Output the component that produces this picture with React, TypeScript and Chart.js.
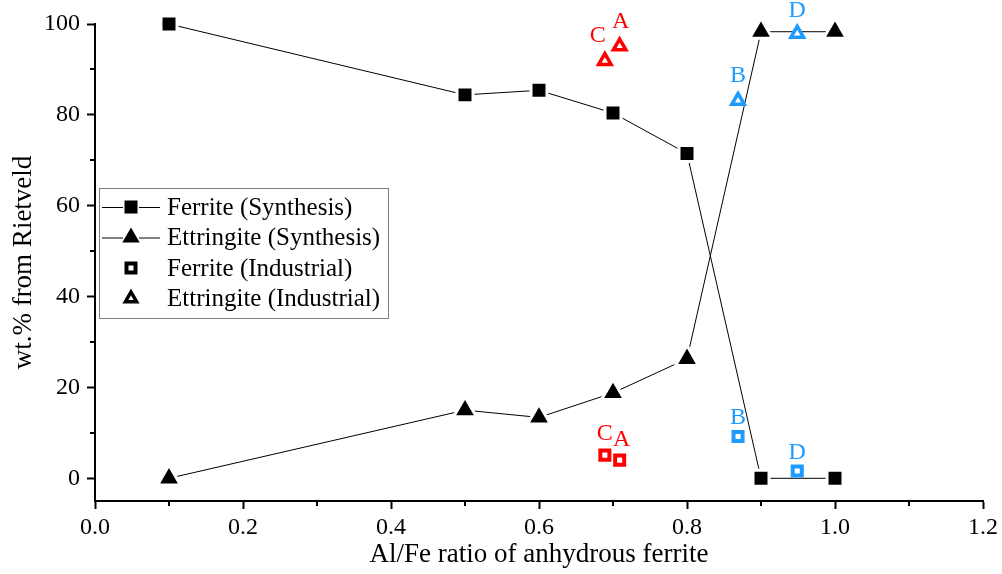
import { useEffect, useRef } from "react";
import Chart from "chart.js/auto";

// data
const synthRatio = [0.1, 0.5, 0.6, 0.7, 0.8, 0.9, 1.0];
const ferriteSynthesis = [100, 84.4, 85.4, 80.4, 71.5, 0, 0];
const ettringiteSynthesis = [0, 15.0, 13.4, 18.8, 26.3, 98.3, 98.3];

const industrialSamples = ["C", "A", "B", "D"];
const industrialRatio = [0.689, 0.709, 0.869, 0.949];
const ferriteIndustrial = [5.1, 4.0, 9.2, 1.6];
const ettringiteIndustrial = [91.9, 95.1, 83.1, 97.9];

const xTicks = [0, 0.2, 0.4, 0.6, 0.8, 1.0, 1.2];
const xMinorTicks = [0.1, 0.3, 0.5, 0.7, 0.9, 1.1];
const yTicks = [0, 20, 40, 60, 80, 100];
const yMinorTicks = [10, 30, 50, 70, 90];

const legendLabels = [
  "Ferrite (Synthesis)",
  "Ettringite (Synthesis)",
  "Ferrite (Industrial)",
  "Ettringite (Industrial)",
];

// styles
const FONT = "'Liberation Serif', 'DejaVu Serif', serif";
const RED = "#ff0000";
const BLUE = "#1e9bff";
const sampleColor: Record<string, string> = { C: RED, A: RED, B: BLUE, D: BLUE };
// label offsets from the marker (px)
const labelShiftTri: Record<string, [number, number]> = { C: [-7, -25], A: [1, -25], B: [0, -25], D: [0, -23] };
const labelShiftSq: Record<string, [number, number]> = { C: [0, -21], A: [2, -20], B: [0, -19], D: [0, -18] };

Chart.defaults.font.family = FONT;

const toXY = (xs: number[], ys: number[]) => xs.map((x, i) => ({ x, y: ys[i] }));

function drawMarker(ctx: CanvasRenderingContext2D, kind: string, x: number, y: number) {
  ctx.save();
  ctx.fillStyle = "#000";
  ctx.strokeStyle = "#000";
  ctx.lineJoin = "miter";
  if (kind === "sq") {
    ctx.fillRect(x - 6.5, y - 6.5, 13, 13);
  } else if (kind === "tri") {
    ctx.beginPath();
    ctx.moveTo(x, y - 10);
    ctx.lineTo(x + 8.7, y + 5);
    ctx.lineTo(x - 8.7, y + 5);
    ctx.closePath();
    ctx.fill();
  } else if (kind === "osq") {
    ctx.lineWidth = 4;
    ctx.strokeRect(x - 4.5, y - 4.5, 9, 9);
  } else {
    ctx.lineWidth = 3.5;
    ctx.beginPath();
    ctx.moveTo(x, y - 6.5);
    ctx.lineTo(x + 5.6, y + 3.2);
    ctx.lineTo(x - 5.6, y + 3.2);
    ctx.closePath();
    ctx.stroke();
  }
  ctx.restore();
}

const extrasPlugin = {
  id: "extras",
  afterDraw(chart: any) {
    const ctx: CanvasRenderingContext2D = chart.ctx;
    const xs = chart.scales.x;
    const ys = chart.scales.y;
    const area = chart.chartArea;
    ctx.save();

    // minor ticks
    ctx.strokeStyle = "#000";
    ctx.lineWidth = 2;
    ctx.beginPath();
    xMinorTicks.forEach((v) => {
      const px = Math.round(xs.getPixelForValue(v));
      ctx.moveTo(px, area.bottom);
      ctx.lineTo(px, area.bottom + 5);
    });
    yMinorTicks.forEach((v) => {
      const py = Math.round(ys.getPixelForValue(v));
      ctx.moveTo(area.left, py);
      ctx.lineTo(area.left - 5, py);
    });
    ctx.stroke();

    // sample letters above industrial markers
    ctx.font = `24px ${FONT}`;
    ctx.textAlign = "center";
    ctx.textBaseline = "middle";
    [2, 3].forEach((di) => {
      const meta = chart.getDatasetMeta(di);
      const shifts = di === 2 ? labelShiftSq : labelShiftTri;
      meta.data.forEach((pt: any, j: number) => {
        const s = industrialSamples[j];
        ctx.fillStyle = sampleColor[s];
        ctx.fillText(s, pt.x + shifts[s][0], pt.y + shifts[s][1]);
      });
    });

    // legend box
    ctx.strokeStyle = "#808080";
    ctx.lineWidth = 1;
    ctx.strokeRect(99.5, 188.5, 289, 130);
    const rows = [207, 237.5, 268, 298.5];
    const kinds = ["sq", "tri", "osq", "otri"];
    rows.forEach((ry, i) => {
      if (i < 2) {
        ctx.strokeStyle = "#000";
        ctx.lineWidth = 1;
        ctx.beginPath();
        ctx.moveTo(102, ry + 0.5);
        ctx.lineTo(123, ry + 0.5);
        ctx.moveTo(139, ry + 0.5);
        ctx.lineTo(160, ry + 0.5);
        ctx.stroke();
      }
      drawMarker(ctx, kinds[i], 131, ry);
      ctx.fillStyle = "#000";
      ctx.font = `25px ${FONT}`;
      ctx.textAlign = "left";
      ctx.textBaseline = "middle";
      ctx.fillText(legendLabels[i], 167, ry + 1);
    });
    ctx.restore();
  },
};

export default function App() {
  const canvasRef = useRef<HTMLCanvasElement>(null);
  const chartRef = useRef<Chart | null>(null);

  useEffect(() => {
    if (!canvasRef.current) return;
    chartRef.current?.destroy();

    const tickFont = { family: FONT, size: 24 };
    const titleFont = { family: FONT, size: 27 };

    chartRef.current = new Chart(canvasRef.current, {
      type: "scatter",
      data: {
        datasets: [
          {
            label: legendLabels[0],
            data: toXY(synthRatio, ferriteSynthesis),
            showLine: true,
            borderColor: "#000",
            borderWidth: 1,
            pointStyle: "rect",
            pointRadius: 11.3,
            pointBackgroundColor: "#000",
            pointBorderColor: "#fff",
            pointBorderWidth: 3,
            clip: false,
            order: 2,
          },
          {
            label: legendLabels[1],
            data: toXY(synthRatio, ettringiteSynthesis),
            showLine: true,
            borderColor: "#000",
            borderWidth: 1,
            pointStyle: "triangle",
            pointRadius: 13.2,
            pointBackgroundColor: "#000",
            pointBorderColor: "#fff",
            pointBorderWidth: 3,
            clip: false,
            order: 1,
          },
          {
            label: legendLabels[2],
            data: toXY(industrialRatio, ferriteIndustrial),
            showLine: false,
            pointStyle: "rect",
            pointRadius: 6.4,
            pointBackgroundColor: "#fff",
            pointBorderColor: industrialSamples.map((s) => sampleColor[s]),
            pointBorderWidth: 4,
            clip: false,
            order: 0,
          },
          {
            label: legendLabels[3],
            data: toXY(industrialRatio, ettringiteIndustrial),
            showLine: false,
            pointStyle: "triangle",
            pointRadius: 7.2,
            pointBackgroundColor: "#fff",
            pointBorderColor: industrialSamples.map((s) => sampleColor[s]),
            pointBorderWidth: 3.5,
            clip: false,
            order: 0,
          },
        ],
      },
      options: {
        animation: false,
        responsive: true,
        maintainAspectRatio: false,
        events: [],
        layout: { padding: { left: 0, top: 24, right: 19, bottom: 0 } },
        plugins: {
          legend: { display: false },
          tooltip: { enabled: false },
        },
        scales: {
          x: {
            type: "linear",
            min: 0,
            max: 1.2,
            afterBuildTicks: (s: any) => {
              s.ticks = xTicks.map((v) => ({ value: v }));
            },
            afterFit: (s: any) => {
              s.height = 73;
            },
            ticks: {
              font: tickFont,
              color: "#000",
              padding: 4,
              maxRotation: 0,
              autoSkip: false,
              callback: (v: any) => Number(v).toFixed(1),
            },
            grid: {
              drawOnChartArea: false,
              drawTicks: true,
              tickLength: 8,
              tickWidth: 2,
              tickColor: "#000",
            },
            border: { display: true, color: "#000", width: 2 },
            title: {
              display: true,
              text: "Al/Fe ratio of anhydrous ferrite",
              font: titleFont,
              color: "#000",
              padding: { top: 0, bottom: 3 },
            },
          },
          y: {
            type: "linear",
            min: -5,
            max: 100,
            afterBuildTicks: (s: any) => {
              s.ticks = yTicks.map((v) => ({ value: v }));
            },
            afterFit: (s: any) => {
              s.width = 95;
            },
            ticks: {
              font: tickFont,
              color: "#000",
              padding: 7,
              autoSkip: false,
              callback: (v: any) => String(v),
            },
            grid: {
              drawOnChartArea: false,
              drawTicks: true,
              tickLength: 8,
              tickWidth: 2,
              tickColor: "#000",
            },
            border: { display: true, color: "#000", width: 2 },
            title: {
              display: true,
              text: "wt.% from Rietveld",
              font: titleFont,
              color: "#000",
              padding: { top: 8, bottom: 0 },
            },
          },
        },
      },
      plugins: [extrasPlugin],
    } as any);

    return () => {
      chartRef.current?.destroy();
      chartRef.current = null;
    };
  }, []);

  return (
    <div style={{ position: "absolute", left: 0, top: 0, width: 1002, height: 574, background: "#fff" }}>
      <canvas ref={canvasRef} />
    </div>
  );
}
